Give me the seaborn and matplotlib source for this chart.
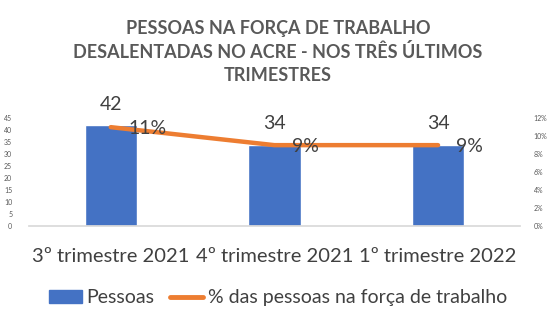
import matplotlib
matplotlib.use("Agg")
import matplotlib.pyplot as plt
import seaborn as sns
import pandas as pd
from matplotlib.ticker import FuncFormatter
from matplotlib.patches import Patch
from matplotlib.lines import Line2D

categories = ["3º trimestre 2021", "4º trimestre 2021", "1º trimestre 2022"]
pessoas = [42, 34, 34]
percentual = [0.11, 0.09, 0.09]
pct_labels = ["11%", "9%", "9%"]

sns.set_theme(style="white")
plt.rcParams['font.family'] = ['Lato', 'DejaVu Sans']

BLUE = "#4472C4"
ORANGE = "#ED7D31"
TXT = "#404040"

df = pd.DataFrame({"cat": categories, "pessoas": pessoas, "pct": percentual})

fig = plt.figure(figsize=(5.56, 3.31), dpi=100)
ax = fig.add_axes([0.052, 0.317, 0.883, 0.326])
sns.barplot(data=df, x="cat", y="pessoas", color=BLUE, width=0.32, saturation=1, ax=ax)
ax.set_ylim(0, 45)
ax.set_yticks(range(0, 46, 5))
ax.set_xlim(-0.5, 2.5)
ax.set_xlabel("")
ax.set_ylabel("")
for s in ["top", "right", "left"]:
    ax.spines[s].set_visible(False)
ax.spines["bottom"].set_color("#D9D9D9")
ax.tick_params(axis="y", labelsize=5, colors="#595959", length=0, pad=12)
ax.tick_params(axis="x", labelsize=14.5, colors=TXT, length=0, pad=16)

for i, v in enumerate(pessoas):
    ax.annotate(str(v), (i, v), xytext=(0, 15), textcoords="offset points",
                ha="center", va="center", fontsize=14, color=TXT)

ax2 = ax.twinx()
sns.lineplot(data=df, x="cat", y="pct", sort=False, color=ORANGE, linewidth=3.2, ax=ax2)
ax2.set_ylim(0, 0.12)
ax2.set_yticks([0, 0.02, 0.04, 0.06, 0.08, 0.10, 0.12])
ax2.yaxis.set_major_formatter(FuncFormatter(lambda v, p: f"{v*100:.0f}%"))
ax2.set_ylabel("")
for s in ["top", "right", "left", "bottom"]:
    ax2.spines[s].set_visible(False)
ax2.tick_params(axis="y", labelsize=5, colors="#595959", length=0, pad=10)

for i, (v, lab) in enumerate(zip(percentual, pct_labels)):
    ax2.annotate(lab, (i, v), xytext=(13, -1), textcoords="offset points",
                 ha="left", va="center", fontsize=14, color=TXT)

fig.text(0.5, 0.843, "PESSOAS NA FORÇA DE TRABALHO\nDESALENTADAS NO ACRE - NOS TRÊS ÚLTIMOS\nTRIMESTRES",
         ha="center", va="center", fontsize=13, fontweight="bold", color="#595959", linespacing=1.42)

handles = [Patch(facecolor=BLUE, edgecolor=BLUE),
           Line2D([0], [0], color=ORANGE, linewidth=3.5)]
fig.legend(handles, ["Pessoas", "% das pessoas na força de trabalho"], loc="center",
           bbox_to_anchor=(0.5, 0.1), ncol=2, frameon=False, fontsize=14,
           labelcolor=TXT, handlelength=1.7, handletextpad=0.25, columnspacing=0.8)

fig.savefig("out.png", dpi=100)
